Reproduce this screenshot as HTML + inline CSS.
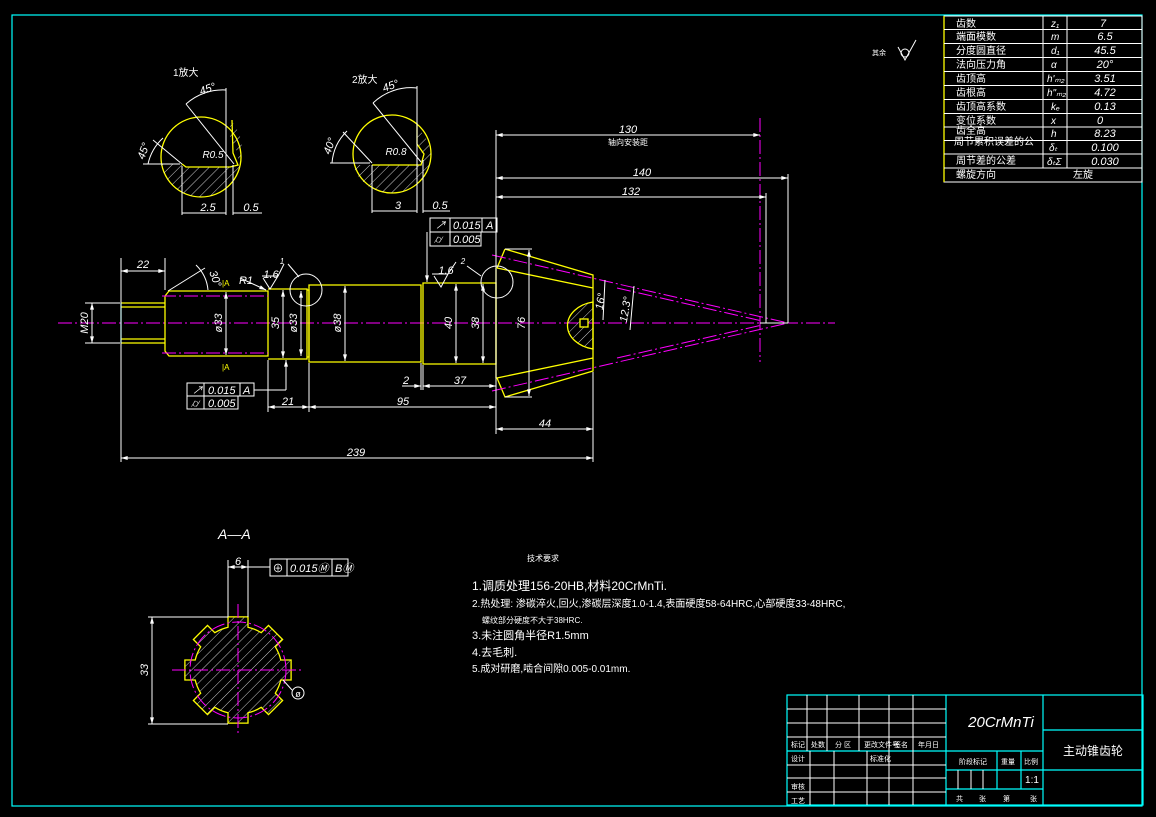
<!DOCTYPE html>
<html><head><meta charset="utf-8"><style>
html,body{margin:0;padding:0;background:#000;}
svg{display:block;}
text{font-family:"Liberation Sans","Noto Sans CJK SC",sans-serif;fill:#fff;}
.w{stroke:#fff;stroke-width:1;fill:none}
.y{stroke:#ff0;stroke-width:1.3;fill:none}
.m{stroke:#f0f;stroke-width:1;fill:none;stroke-dasharray:14 3 2 3}
.c{stroke:#0ff;stroke-width:1.2;fill:none}
.it{font-style:italic}
</style></head><body>
<svg width="1156" height="817" viewBox="0 0 1156 817" xmlns="http://www.w3.org/2000/svg">
<defs>
<pattern id="h" width="7" height="7" patternUnits="userSpaceOnUse" patternTransform="rotate(45)">
<line x1="0" y1="0" x2="0" y2="7" stroke="#fff" stroke-width="0.8"/></pattern>
<marker id="a" viewBox="0 0 10 6" refX="10" refY="3" markerWidth="8" markerHeight="4" orient="auto-start-reverse"><path d="M0,0L10,3L0,6z" fill="#fff"/></marker>
</defs>
<rect x="0" y="0" width="1156" height="817" fill="#000"/>
<rect x="12" y="15" width="1130" height="791" class="c"/>

<!-- parameter table -->
<g>
<rect x="944" y="16" width="198" height="166" class="w"/>
<line x1="944" y1="16" x2="944" y2="182" class="y"/>
<line x1="1043" y1="16" x2="1043" y2="168" class="w"/>
<line x1="1067" y1="16" x2="1067" y2="168" class="w"/>
<g class="w">
<line x1="944" y1="29.5" x2="1142" y2="29.5"/><line x1="944" y1="43.5" x2="1142" y2="43.5"/>
<line x1="944" y1="57.5" x2="1142" y2="57.5"/><line x1="944" y1="71.5" x2="1142" y2="71.5"/>
<line x1="944" y1="85.5" x2="1142" y2="85.5"/><line x1="944" y1="99.5" x2="1142" y2="99.5"/>
<line x1="944" y1="113.5" x2="1142" y2="113.5"/><line x1="944" y1="127" x2="1142" y2="127"/>
<line x1="944" y1="140.5" x2="1142" y2="140.5"/><line x1="944" y1="154" x2="1142" y2="154"/>
<line x1="944" y1="168" x2="1142" y2="168"/>
</g>
<g font-size="10">
<text x="956" y="27">齿数</text><text x="956" y="40">端面模数</text><text x="956" y="54">分度圆直径</text>
<text x="956" y="68">法向压力角</text><text x="956" y="82">齿顶高</text><text x="956" y="96">齿根高</text>
<text x="956" y="110">齿顶高系数</text><text x="956" y="124">变位系数</text><text x="956" y="134">齿全高</text>
<text x="954" y="145">周节累积误差的公</text><text x="956" y="164">周节差的公差</text><text x="956" y="178">螺旋方向</text>
</g>
<g font-size="10" class="it">
<text x="1051" y="27">z₁</text><text x="1051" y="40">m</text><text x="1051" y="54">d₁</text>
<text x="1051" y="68">α</text><text x="1047" y="82">h'ₘ₂</text><text x="1047" y="96">h"ₘ₂</text>
<text x="1051" y="110">kₑ</text><text x="1051" y="124">x</text><text x="1051" y="137">h</text>
<text x="1049" y="151">δₜ</text><text x="1047" y="165">δₜΣ</text>
</g>
<g font-size="11" class="it" text-anchor="middle">
<text x="1103" y="27">7</text><text x="1105" y="40">6.5</text><text x="1105" y="54">45.5</text>
<text x="1105" y="68">20°</text><text x="1105" y="82">3.51</text><text x="1105" y="96">4.72</text>
<text x="1105" y="110">0.13</text><text x="1100" y="124">0</text><text x="1105" y="137">8.23</text>
<text x="1105" y="151">0.100</text><text x="1105" y="165">0.030</text>
</g>
<text x="1083" y="178" font-size="10" text-anchor="middle">左旋</text>
</g>

<!-- roughness -->
<text x="872" y="55" font-size="7">其余</text>
<path d="M898,47 L905,60 L916,40" class="w"/><circle cx="905" cy="53" r="4" class="w"/>

<!-- detail 1 -->
<text x="173" y="76" font-size="10">1放大</text>
<circle cx="201" cy="157" r="40" class="y"/>
<path d="M161,164 L182,164 L186,167 L230,167 L238,165 L238,153 L230,140 L230,120 A40,40 0 0 1 241,157 A40,40 0 0 1 201,197 A40,40 0 0 1 161,164Z" fill="url(#h)"/>
<path d="M182,164 L186,167 L230,167 L238,165 L233,153 L232,120" class="y"/>
<g class="w"><line x1="182" y1="166" x2="182" y2="215"/><line x1="226" y1="88" x2="226" y2="215"/><line x1="233" y1="165" x2="233" y2="215"/>
<line x1="182" y1="213" x2="226" y2="213"/><line x1="233" y1="213" x2="262" y2="213"/>
<line x1="182" y1="164" x2="153" y2="140"/><line x1="186" y1="104" x2="234" y2="164"/>
<path d="M186,104 A55,55 0 0 1 226,90"/><path d="M148,164 A50,50 0 0 1 163,138"/>
<line x1="143" y1="164" x2="180" y2="164"/></g>
<text x="213" y="158" font-size="10" class="it" text-anchor="middle">R0.5</text>
<text x="201" y="95" font-size="11" class="it" transform="rotate(-20 201 95)">45°</text>
<text x="144" y="160" font-size="11" class="it" transform="rotate(-70 144 160)">45°</text>
<text x="208" y="211" font-size="11" class="it" text-anchor="middle">2.5</text>
<text x="251" y="211" font-size="11" class="it" text-anchor="middle">0.5</text>

<!-- detail 2 -->
<text x="352" y="83" font-size="10">2放大</text>
<circle cx="392" cy="154" r="39" class="y"/>
<path d="M353,165 L373,165 L421,165 L423,155 L417,143 L417,128 A39,39 0 0 1 431,154 A39,39 0 0 1 392,193 A39,39 0 0 1 353,165Z" fill="url(#h)"/>
<path d="M372,165 L421,165 L424,154 L417,144 L417,123" class="y"/>
<g class="w"><line x1="372" y1="165" x2="372" y2="213"/><line x1="417" y1="86" x2="417" y2="213"/><line x1="423" y1="160" x2="423" y2="213"/>
<line x1="372" y1="211" x2="417" y2="211"/><line x1="423" y1="211" x2="450" y2="211"/>
<line x1="372" y1="163" x2="343" y2="132"/><line x1="373" y1="103" x2="421" y2="162"/>
<path d="M373,103 A55,55 0 0 1 417,88"/><path d="M332,163 A50,50 0 0 1 347,131"/>
<line x1="330" y1="163" x2="370" y2="163"/></g>
<text x="396" y="155" font-size="10" class="it" text-anchor="middle">R0.8</text>
<text x="384" y="92" font-size="11" class="it" transform="rotate(-20 384 92)">45°</text>
<text x="330" y="155" font-size="11" class="it" transform="rotate(-70 330 155)">40°</text>
<text x="398" y="209" font-size="11" class="it" text-anchor="middle">3</text>
<text x="440" y="209" font-size="11" class="it" text-anchor="middle">0.5</text>

<!-- main shaft -->
<line x1="58" y1="323" x2="835" y2="323" class="m"/>
<g class="y">
<path d="M121,303 L165,303 M121,343 L165,343 M121,307 L165,307 M121,339 L165,339"/>
<path d="M165,296 L169,291 L268,291 L268,356 L169,356 L165,351 Z"/>
<path d="M268,289 L307,289 L307,359 L268,359"/>
<path d="M307,290 L309,290 L309,357 L307,357"/>
<path d="M309,285 L421,285 L421,362 L309,362 Z"/>
<path d="M423,283 L496,283 L496,364 L423,364 Z"/>
<path d="M496,268 L496,378"/>
<path d="M505,249 L593,275 L593,371 L505,397 L497,378 L593,358 M497,268 L593,288"/>
<path d="M505,249 L497,268"/>
</g>
<line x1="121" y1="303" x2="121" y2="343" class="c"/>
<line x1="162" y1="296" x2="268" y2="296" class="m"/><line x1="162" y1="353" x2="268" y2="353" class="m"/>
<text x="222" y="286" font-size="8" style="fill:#ff0">|A</text>
<text x="222" y="370" font-size="8" style="fill:#ff0">|A</text>
<!-- gear hatch -->
<path d="M593,302 A32,24 0 0 0 593,349 Z" class="y" style="fill:url(#h)"/>
<rect x="580" y="319" width="8" height="8" class="y" style="fill:#000"/>
<!-- cone lines -->
<g class="m"><line x1="492" y1="255" x2="788" y2="323"/><line x1="492" y1="391" x2="788" y2="323"/>
<line x1="617" y1="288" x2="762" y2="321"/><line x1="617" y1="358" x2="762" y2="325"/>
<line x1="760" y1="118" x2="760" y2="362"/></g>
<path d="M760,323 L788,323" class="w"/>
<circle cx="306" cy="290" r="16" class="w"/><circle cx="497" cy="282" r="16" class="w"/>

<!-- dimensions -->
<g class="w">
<line x1="121" y1="258" x2="121" y2="462"/><line x1="165" y1="258" x2="165" y2="290"/>
<line x1="121" y1="271" x2="165" y2="271" marker-start="url(#a)" marker-end="url(#a)"/>
<line x1="85" y1="303" x2="120" y2="303"/><line x1="85" y1="343" x2="120" y2="343"/>
<line x1="92" y1="303" x2="92" y2="343" marker-start="url(#a)" marker-end="url(#a)"/>
<line x1="226" y1="292" x2="226" y2="355" marker-start="url(#a)" marker-end="url(#a)"/>
<line x1="283" y1="290" x2="283" y2="358" marker-start="url(#a)" marker-end="url(#a)"/>
<line x1="301" y1="291" x2="301" y2="356" marker-start="url(#a)" marker-end="url(#a)"/>
<line x1="345" y1="286" x2="345" y2="361" marker-start="url(#a)" marker-end="url(#a)"/>
<line x1="456" y1="284" x2="456" y2="363" marker-start="url(#a)" marker-end="url(#a)"/>
<line x1="483" y1="284" x2="483" y2="363" marker-start="url(#a)" marker-end="url(#a)"/>
<line x1="529" y1="250" x2="529" y2="396" marker-start="url(#a)" marker-end="url(#a)"/>
<line x1="505" y1="249" x2="532" y2="249"/><line x1="505" y1="397" x2="532" y2="397"/>
<line x1="268" y1="360" x2="268" y2="412"/><line x1="309" y1="363" x2="309" y2="412"/>
<line x1="268" y1="407" x2="309" y2="407" marker-start="url(#a)" marker-end="url(#a)"/>
<line x1="309" y1="407" x2="496" y2="407" marker-start="url(#a)" marker-end="url(#a)"/>
<line x1="496" y1="130" x2="496" y2="434"/><line x1="593" y1="372" x2="593" y2="462"/>
<line x1="421" y1="363" x2="421" y2="390"/><line x1="423" y1="365" x2="423" y2="390"/>
<line x1="423" y1="386" x2="496" y2="386" marker-start="url(#a)" marker-end="url(#a)"/>
<line x1="402" y1="386" x2="421" y2="386" marker-end="url(#a)"/>
<line x1="496" y1="429" x2="593" y2="429" marker-start="url(#a)" marker-end="url(#a)"/>
<line x1="121" y1="458" x2="593" y2="458" marker-start="url(#a)" marker-end="url(#a)"/>
<line x1="496" y1="135" x2="760" y2="135" marker-start="url(#a)" marker-end="url(#a)"/>
<line x1="496" y1="178" x2="788" y2="178" marker-start="url(#a)" marker-end="url(#a)"/>
<line x1="496" y1="197" x2="766" y2="197" marker-start="url(#a)" marker-end="url(#a)"/>
<line x1="788" y1="174" x2="788" y2="323"/><line x1="766" y1="193" x2="766" y2="323"/>
<line x1="605" y1="280" x2="603" y2="320"/><line x1="634" y1="286" x2="630" y2="330"/>
<line x1="168" y1="291" x2="205" y2="268"/><path d="M196,265 A40,40 0 0 1 208,290"/>
<line x1="240" y1="278" x2="266" y2="290" marker-end="url(#a)"/>
<path d="M263,278 L270,289 L278,276 L262,276"/><path d="M278,276 L284,264 M288,264 L299,277"/>
<path d="M434,276 L441,287 L448,274 L432,274"/><path d="M448,274 L456,262 M467,266 L481,276"/>
<rect x="187" y="383" width="67" height="13"/><rect x="187" y="396" width="51" height="13"/>
<line x1="204" y1="383" x2="204" y2="409"/><line x1="240" y1="383" x2="240" y2="396"/>
<line x1="254" y1="390" x2="286" y2="390"/><line x1="286" y1="390" x2="286" y2="360" marker-end="url(#a)"/>
<rect x="430" y="218" width="67" height="14"/><rect x="430" y="232" width="51" height="14"/>
<line x1="450" y1="218" x2="450" y2="246"/><line x1="482" y1="218" x2="482" y2="232"/>
<line x1="427" y1="232" x2="427" y2="282" marker-end="url(#a)"/>
</g>
<g font-size="11" class="it" text-anchor="middle">
<text x="143" y="268">22</text>
<text x="88" y="323" transform="rotate(-90 88 323)">M20</text>
<text x="222" y="323" transform="rotate(-90 222 323)">ø33</text>
<text x="279" y="323" transform="rotate(-90 279 323)">35</text>
<text x="297" y="323" transform="rotate(-90 297 323)">ø33</text>
<text x="341" y="323" transform="rotate(-90 341 323)">ø38</text>
<text x="452" y="323" transform="rotate(-90 452 323)">40</text>
<text x="479" y="323" transform="rotate(-90 479 323)">38</text>
<text x="525" y="323" transform="rotate(-90 525 323)">76</text>
<text x="212" y="280" transform="rotate(70 212 280)">30°</text>
<text x="246" y="284">R1</text>
<text x="271" y="278">1.6</text><text x="282" y="264" font-size="8">1</text>
<text x="446" y="274">1.6</text><text x="463" y="264" font-size="8">2</text>
<text x="288" y="405">21</text><text x="403" y="405">95</text>
<text x="406" y="384">2</text><text x="460" y="384">37</text>
<text x="545" y="427">44</text><text x="356" y="456">239</text>
<text x="628" y="133">130</text><text x="642" y="176">140</text><text x="631" y="195">132</text>
<text x="604" y="302" transform="rotate(-80 604 302)">16°</text>
<text x="629" y="310" transform="rotate(-80 629 310)">12.3°</text>
</g>
<text x="628" y="145" font-size="8" text-anchor="middle">轴向安装距</text>
<g font-size="11" class="it">
<text x="192" y="394">↗</text><text x="208" y="394">0.015</text><text x="243" y="394">A</text>
<text x="191" y="407">⌭</text><text x="208" y="407">0.005</text>
<text x="435" y="229">↗</text><text x="453" y="229">0.015</text><text x="486" y="229">A</text>
<text x="434" y="243">⌭</text><text x="453" y="243">0.005</text>
</g>

<!-- section A-A -->
<text x="218" y="539" font-size="14" class="it">A—A</text>
<path d="M280.8,660 L291.1,660 L291.1,680 L280.8,680 A44,44 0 0 1 275.3,693.2 L282.6,700.5 L268.5,714.6 L261.2,707.3 A44,44 0 0 1 248,712.8 L248,723.1 L228,723.1 L228,712.8 A44,44 0 0 1 214.8,707.3 L207.5,714.6 L193.4,700.5 L200.7,693.2 A44,44 0 0 1 195.2,680 L184.9,680 L184.9,660 L195.2,660 A44,44 0 0 1 200.7,646.8 L193.4,639.5 L207.5,625.4 L214.8,632.7 A44,44 0 0 1 228,627.2 L228,616.9 L248,616.9 L248,627.2 A44,44 0 0 1 261.2,632.7 L268.5,625.4 L282.6,639.5 L275.3,646.8 A44,44 0 0 1 280.8,660 Z" class="y" style="fill:url(#h)"/>
<circle cx="238" cy="670" r="48" class="m"/>
<line x1="172" y1="670" x2="304" y2="670" class="m"/><line x1="238" y1="604" x2="238" y2="736" class="m"/>
<g class="w">
<line x1="228" y1="560" x2="228" y2="617"/><line x1="248" y1="560" x2="248" y2="617"/>
<line x1="228" y1="567" x2="248" y2="567" marker-start="url(#a)" marker-end="url(#a)"/><line x1="248" y1="567" x2="270" y2="567"/>
<rect x="270" y="559" width="78" height="17"/><line x1="287" y1="559" x2="287" y2="576"/><line x1="332" y1="559" x2="332" y2="576"/>
<line x1="148" y1="617" x2="228" y2="617"/><line x1="148" y1="724" x2="228" y2="724"/>
<line x1="152" y1="617" x2="152" y2="724" marker-start="url(#a)" marker-end="url(#a)"/>
<circle cx="298" cy="693" r="6"/><line x1="292" y1="690" x2="283" y2="680"/>
</g>
<text x="238" y="565" font-size="11" class="it" text-anchor="middle">6</text>
<text x="278" y="572" font-size="11" text-anchor="middle">⊕</text>
<text x="290" y="572" font-size="11" class="it">0.015Ⓜ</text>
<text x="335" y="572" font-size="11" class="it">BⓂ</text>
<text x="148" y="670" font-size="11" class="it" text-anchor="middle" transform="rotate(-90 148 670)">33</text>
<text x="298" y="697" font-size="9" text-anchor="middle">ø</text>

<!-- technical requirements -->
<g font-size="10">
<text x="527" y="561" font-size="8">技术要求</text>
<text x="472" y="590" font-size="12">1.调质处理156-20HB,材料20CrMnTi.</text>
<text x="472" y="607" font-size="10">2.热处理:  渗碳淬火,回火,渗碳层深度1.0-1.4,表面硬度58-64HRC,心部硬度33-48HRC,</text>
<text x="482" y="623" font-size="8">螺纹部分硬度不大于38HRC.</text>
<text x="472" y="639" font-size="11">3.未注圆角半径R1.5mm</text>
<text x="472" y="656" font-size="11">4.去毛刺.</text>
<text x="472" y="672" font-size="10">5.成对研磨,啮合间隙0.005-0.01mm.</text>
</g>

<!-- title block -->
<g class="c">
<rect x="787" y="695" width="356" height="110"/>
<line x1="946" y1="695" x2="946" y2="805"/><line x1="1043" y1="695" x2="1043" y2="805"/>
<line x1="1043" y1="730" x2="1143" y2="730"/><line x1="1043" y1="770" x2="1143" y2="770"/>
<line x1="787" y1="751" x2="946" y2="751"/>
<line x1="946" y1="751" x2="1043" y2="751"/><line x1="946" y1="770" x2="1043" y2="770"/><line x1="946" y1="789" x2="1043" y2="789"/>
<line x1="997" y1="751" x2="997" y2="789"/><line x1="1021" y1="751" x2="1021" y2="789"/>
</g>
<g class="w">
<line x1="787" y1="709" x2="946" y2="709"/><line x1="787" y1="723" x2="946" y2="723"/><line x1="787" y1="737" x2="946" y2="737"/>
<line x1="787" y1="765" x2="946" y2="765"/><line x1="787" y1="778" x2="946" y2="778"/><line x1="787" y1="792" x2="946" y2="792"/>
<line x1="807" y1="695" x2="807" y2="751"/><line x1="827" y1="695" x2="827" y2="751"/><line x1="859" y1="695" x2="859" y2="751"/>
<line x1="889" y1="695" x2="889" y2="805"/><line x1="913" y1="695" x2="913" y2="805"/>
<line x1="810" y1="751" x2="810" y2="805"/><line x1="834" y1="751" x2="834" y2="805"/><line x1="867" y1="751" x2="867" y2="805"/>
<line x1="958" y1="770" x2="958" y2="789"/><line x1="971" y1="770" x2="971" y2="789"/><line x1="983" y1="770" x2="983" y2="789"/>
</g>
<g font-size="7">
<text x="791" y="747">标记</text><text x="811" y="747">处数</text><text x="835" y="747">分 区</text>
<text x="864" y="747">更改文件号</text><text x="894" y="747">签名</text><text x="918" y="747">年月日</text>
<text x="791" y="761">设计</text><text x="870" y="761">标准化</text><text x="791" y="789">审核</text><text x="791" y="803">工艺</text>
<text x="959" y="764">阶段标记</text><text x="1001" y="764">重量</text><text x="1024" y="764">比例</text>
<text x="956" y="801">共</text><text x="979" y="801">张</text><text x="1003" y="801">第</text><text x="1030" y="801">张</text>
</g>
<text x="1032" y="783" font-size="10" text-anchor="middle">1:1</text>
<text x="1001" y="727" font-size="15" class="it" text-anchor="middle">20CrMnTi</text>
<text x="1093" y="755" font-size="12" text-anchor="middle">主动锥齿轮</text>
</svg>
</body></html>
